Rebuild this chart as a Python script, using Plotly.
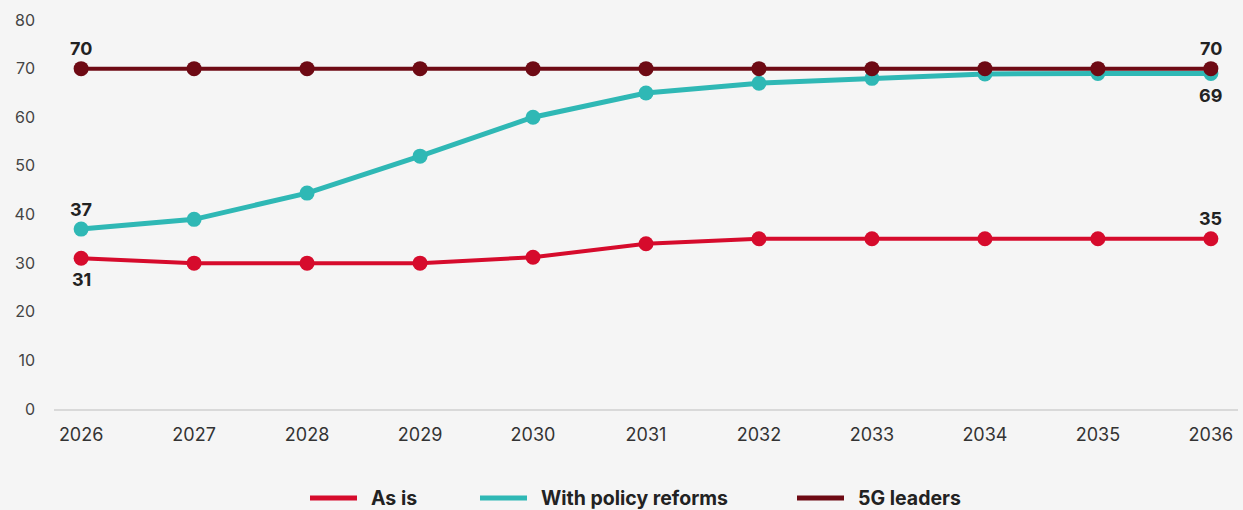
import plotly.graph_objects as go

# Scenario projections, 2026-2036
years = list(range(2026, 2037))
as_is = [31, 30, 30, 30, 31.2, 34, 35, 35, 35, 35, 35]
policy_reforms = [37, 39, 44.4, 52, 60, 65, 67, 68, 68.9, 69, 69]
leaders_5g = [70, 70, 70, 70, 70, 70, 70, 70, 70, 70, 70]

series_names = ["As is", "With policy reforms", "5G leaders"]
series_colors = ["#d60b2c", "#2fb8b5", "#6e0a14"]
y_ticks = [0, 10, 20, 30, 40, 50, 60, 70, 80]

label_font = dict(family="Inter, Roboto, sans-serif", size=18, color="#222222")

fig = go.Figure()
series = [
    # values, pixel shift of first/last value label, line width
    (as_is, -21, 20, 4),
    (policy_reforms, 20, -22, 5),
    (leaders_5g, 20, 20, 4),
]
for (vals, shift0, shift1, w), name, color in zip(series, series_names, series_colors):
    fig.add_trace(go.Scatter(
        x=years, y=vals, name=name,
        mode="lines+markers",
        line=dict(color=color, width=w),
        marker=dict(color=color, size=15),
        cliponaxis=False,
        showlegend=False,
    ))
    for idx, shift in ((0, shift0), (-1, shift1)):
        fig.add_annotation(
            x=years[idx], y=vals[idx], yshift=shift, showarrow=False,
            text=f"<b>{vals[idx]:.0f}</b>", font=label_font,
            xanchor="center", yanchor="middle",
        )

# Legend drawn below the axis
plot_left, plot_right, plot_top, plot_bottom = 54, 1238, 20, 409
def px_to_paper_x(px):
    return (px - plot_left) / (plot_right - plot_left)
def px_to_paper_y(py):
    return (plot_bottom - py) / (plot_bottom - plot_top)

legend_x = [310, 480, 797]
legend_y = 498
for lx, name, color in zip(legend_x, series_names, series_colors):
    fig.add_shape(type="line", xref="paper", yref="paper",
                  x0=px_to_paper_x(lx), x1=px_to_paper_x(lx + 47),
                  y0=px_to_paper_y(legend_y), y1=px_to_paper_y(legend_y),
                  line=dict(color=color, width=5))
    fig.add_annotation(xref="paper", yref="paper",
                       x=px_to_paper_x(lx + 59), y=px_to_paper_y(legend_y),
                       xanchor="left", yanchor="middle", showarrow=False,
                       text=f"<b>{name}</b>",
                       font=dict(family="Inter, Roboto, sans-serif", size=19.5, color="#222222"))

fig.update_layout(
    width=1243, height=510,
    margin=dict(l=plot_left, r=1243 - plot_right, t=plot_top, b=510 - plot_bottom),
    paper_bgcolor="#f5f5f5", plot_bgcolor="#f5f5f5",
    font=dict(family="Inter, Roboto, sans-serif", size=16, color="#444444"),
)
fig.update_xaxes(
    range=[2025.76, 2036.24], tickvals=years, ticktext=[str(y) for y in years],
    showgrid=False, zeroline=False, showline=True, linecolor="#d9d9d9", linewidth=1.5,
    ticks="", ticklabelstandoff=9, tickfont=dict(size=18, color="#333333"),
)
fig.update_yaxes(
    range=[0, 80], tickvals=y_ticks, showgrid=False, zeroline=False,
    ticks="", ticklabelstandoff=18, tickfont=dict(size=16, color="#444444"),
)

fig.write_html("out.html")
